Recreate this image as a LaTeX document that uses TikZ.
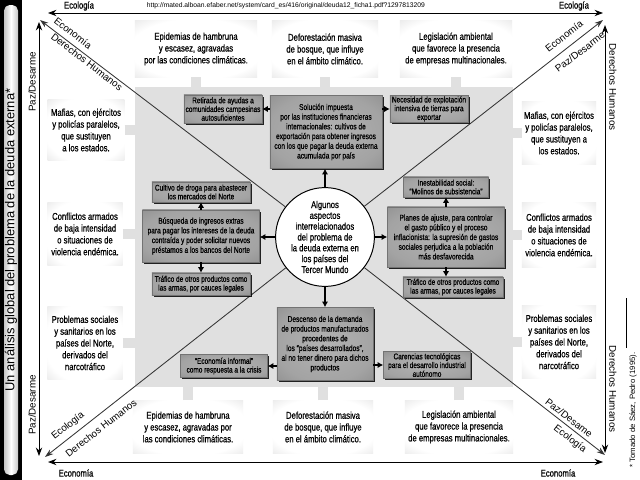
\documentclass[tikz,border=0pt]{standalone}
\usepackage{fontspec}
\setmainfont{Liberation Sans}
\newfontfamily\narrowsf{Liberation Sans}[FakeStretch=0.78,FakeBold=0.6]
\usetikzlibrary{arrows.meta,positioning,fit,shadows}
\definecolor{panelgray}{gray}{0.88}
\definecolor{glowmid}{gray}{0.83}
\definecolor{glowedge}{gray}{0.68}
\definecolor{darkmid}{gray}{0.70}
\definecolor{darkin}{gray}{0.64}
\definecolor{darkedge}{gray}{0.50}
\definecolor{darkcorner}{gray}{0.40}
\pgfdeclareradialshading{outglow}{\pgfpoint{0bp}{0bp}}{color(0bp)=(white); color(27bp)=(white); color(47bp)=(glowmid); color(72bp)=(glowedge)}
\pgfdeclareradialshading{inglow}{\pgfpoint{0bp}{0bp}}{color(0bp)=(darkmid); color(26bp)=(darkin); color(48bp)=(darkedge); color(72bp)=(darkcorner)}
\newcommand{\fontouter}{\narrowsf\fontsize{7}{8.4}\selectfont}
\newcommand{\fontinner}{\narrowsf\fontsize{6}{6.9}\selectfont}
\newcommand{\fonttag}{\narrowsf\fontsize{5.9}{6.2}\selectfont}
\newcommand{\fontcore}{\narrowsf\fontsize{7}{7.7}\selectfont}

\begin{document}
\begin{tikzpicture}[x=0.025cm,y=-0.025cm,
    outbox/.style={shade, shading=outglow, inner sep=0pt, align=center, font=\fontouter},
    darkbox/.style={shade, shading=inglow, draw=black!55, line width=0.3pt,
      drop shadow={shadow xshift=1.1pt, shadow yshift=-1.1pt, fill=black, opacity=0.85},
      inner sep=0pt, align=center, font=\fontinner},
    tagbox/.style={darkbox, font=\fonttag},
    core/.style={circle, draw, line width=0.7pt, fill=white, minimum size=2.2cm, inner sep=0pt,
      align=center, font=\fontcore},
    stub/.style={draw=panelgray, line width=0.25cm},
    diag/.style={draw=black!80, line width=0.6pt, -{Stealth[length=6pt,width=4pt]}},
    axis/.style={line width=0.7pt, {Stealth[length=6pt,width=4.5pt]}-{Stealth[length=6pt,width=4.5pt]}},
    arr/.style={line width=1.3pt, -{Latex[length=4pt,width=4.5pt]}},
    hlab/.style={font=\narrowsf\fontsize{7}{8}\selectfont},
    vlab/.style={font=\fontsize{7}{8}\selectfont},
  ]
  \useasboundingbox[fill=white] (0,0) rectangle (640,480);

  % title bar
  \begin{scope}
    \fill[black] (0,0) rectangle (22,480);
    \shade[rounded corners=4pt, left color=black!22, right color=black!22, middle color=white] (4,5) rectangle (18,475);
    \node[rotate=90, font=\fontsize{9.2}{10}\selectfont] (title) at (11,240) {Un análisis global del problema de la deuda externa*};
  \end{scope}

  % frame of axes
  \begin{scope}
    \coordinate (ax1) at (48,13);  \coordinate (ax2) at (603,13);
    \coordinate (ax3) at (48,462); \coordinate (ax4) at (603,462);
    \coordinate (ax5) at (39,22);  \coordinate (ax6) at (39,456);
    \coordinate (ax7) at (605,25); \coordinate (ax8) at (605,453);
    \draw[axis] (ax1) -- (ax2); % top
    \draw[axis] (ax3) -- (ax4); % bottom
    \draw[axis] (ax5) -- (ax6); % left
    \draw[axis] (ax7) -- (ax8); % right
    \node[hlab] (ecoTL) at (79,6) {Ecología};
    \node[hlab] (ecoTR) at (574,6) {Ecología};
    \node[hlab] (ecnBL) at (76,473) {Economía};
    \node[hlab] (ecnBR) at (558,473) {Economía};
    \node[vlab, rotate=90] (pazL1) at (32,82) {Paz/Desarme};
    \node[vlab, rotate=90] (pazL2) at (32,405) {Paz/Desarme};
    \node[vlab, rotate=-90] (dhR1) at (613,87) {Derechos Humanos};
    \node[vlab, rotate=-90] (dhR2) at (613,389) {Derechos Humanos};
    \node[font=\fontsize{4.8}{5}\selectfont] (url) at (286,6) {http://mated.alboan.efaber.net/system/card\_es/416/original/deuda12\_ficha1.pdf?1297813209};
    \node[rotate=90, font=\fontsize{5.5}{6}\selectfont] (source) at (633,410) {* Tomado de Sáez, Pedro (1995).};
    \draw[line width=0.4pt] (626,298) -- (626,348);
  \end{scope}

  % panel and outer boxes
  \node[fit={(135,87) (513,387)}, inner sep=0pt, fill=panelgray] (panel) {};
  \node[outbox, minimum width=3.05cm, minimum height=1.4cm] (epidT) at (196,49) {Epidemias de hambruna\\ y escasez, agravadas\\ por las condiciones climáticas.};
  \node[outbox, minimum width=2.65cm, minimum height=1.4cm] (deforT) at (325,49) {Deforestación masiva\\ de bosque, que influye\\ en el ámbito climático.};
  \node[outbox, minimum width=2.8cm, minimum height=1.4cm] (legisT) at (456,49) {Legislación ambiental\\ que favorece la presencia\\ de empresas multinacionales.};
  \node[outbox, minimum width=2.75cm, minimum height=1.33cm] (epidB) at (188,427) {Epidemias de hambruna\\ y escasez, agravadas por\\ las condiciones climáticas.};
  \node[outbox, minimum width=2.5cm, minimum height=1.33cm] (deforB) at (323,427) {Deforestación masiva\\ de bosque, que influye\\ en el ámbito climático.};
  \node[outbox, minimum width=2.7cm, minimum height=1.33cm] (legisB) at (459,427) {Legislación ambiental\\ que favorece la presencia\\ de empresas multinacionales.};
  \node[outbox, minimum width=1.92cm, minimum height=1.5cm] (mafiaL) at (86,130) {Mafias, con ejércitos\\ y policías paralelos,\\ que sustituyen\\ a los estados.};
  \node[outbox, minimum width=1.88cm, minimum height=1.58cm] (conflL) at (85,234) {Conflictos armados\\ de baja intensidad\\ o situaciones de\\ violencia endémica.};
  \node[outbox, minimum width=1.88cm, minimum height=1.83cm] (probL) at (85,343) {Problemas sociales\\ y sanitarios en los\\ países del Norte,\\ derivados del\\ narcotráfico};
  \node[outbox, minimum width=1.85cm, minimum height=1.58cm] (mafiaR) at (559,133) {Mafias, con ejércitos\\ y policías paralelos,\\ que sustituyen a\\ los estados.};
  \node[outbox, minimum width=1.85cm, minimum height=1.6cm] (conflR) at (559,235) {Conflictos armados\\ de baja intensidad\\ o situaciones de\\ violencia endémica.};
  \node[outbox, minimum width=1.85cm, minimum height=1.83cm] (probR) at (559,342) {Problemas sociales\\ y sanitarios en los\\ países del Norte,\\ derivados del\\ narcotráfico};

  % stubs into the panel
  \begin{scope}
    \foreach \b in {epidT,deforT,legisT}
      \draw[stub] (\b.south) -- (\b.south |- panel.north);
    \foreach \b in {epidB,deforB,legisB}
      \draw[stub] (\b.north) -- (\b.north |- panel.south);
    \foreach \b in {mafiaL,conflL,probL}
      \draw[stub] (\b.east) -- (\b.east -| panel.west);
    \foreach \b in {mafiaR,conflR,probR}
      \draw[stub] (\b.west) -- (\b.west -| panel.east);
  \end{scope}

  % centre and diagonals
  \node[core] (core) at (325,237) {Algunos\\ aspectos\\ interrelacionados\\ del problema de\\ la deuda externa en\\ los países del\\ Tercer Mundo};
  \begin{scope}
    \coordinate (tlc) at (40,20);  \coordinate (trc) at (603,20);
    \coordinate (blc) at (45,457); \coordinate (brc) at (605,455);
    \draw[diag] (core) -- (tlc);
    \draw[diag] (core) -- (trc);
    \draw[diag] (core) -- (blc);
    \draw[diag] (core) -- (brc);
    \node[vlab, rotate=-37.6] (dTL1) at (73,33) {Economía};
    \node[vlab, rotate=-37.6] (dTL2) at (87,62) {Derechos Humanos};
    \node[vlab, rotate=37.5] (dTR1) at (564,36) {Economía};
    \node[vlab, rotate=37.5] (dTR2) at (580,52) {Paz/Desarme};
    \node[vlab, rotate=38] (dBL1) at (68,426) {Ecología};
    \node[vlab, rotate=38] (dBL2) at (101,428) {Derechos Humanos};
    \node[vlab, rotate=-37.6] (dBR1) at (569,418) {Paz/Desame};
    \node[vlab, rotate=-37.6] (dBR2) at (570,439) {Ecología};
  \end{scope}

  % inner boxes
  \node[darkbox, minimum width=2.8cm, minimum height=1.83cm] (sol) at (326,132) {Solución impuesta\\ por las instituciones financieras\\ internacionales: cultivos de\\ exportación para obtener ingresos\\ con los que pagar la deuda externa\\ acumulada por país};
  \node[tagbox, minimum width=1.95cm, minimum height=0.7cm] (retir) at (223,109) {Retirada de ayudas a\\ comunidades campesinas\\ autosuficientes};
  \node[tagbox, minimum width=1.95cm, minimum height=0.68cm] (neces) at (429,109) {Necesidad de explotación\\ intensiva de tierras para\\ exportar};
  \node[darkbox, minimum width=2.93cm, minimum height=1.3cm] (busq) at (201,236) {Búsqueda de ingresos extras\\ para pagar los intereses de la deuda\\ contraída y poder solicitar nuevos\\ préstamos a los bancos del Norte};
  \node[tagbox, minimum width=2.45cm, minimum height=0.5cm] (cultiv) at (201,192) {Cultivo de droga para abastecer\\ los mercados del Norte};
  \node[tagbox, minimum width=2.45cm, minimum height=0.55cm] (trafL) at (201,284) {Tráfico de otros productos como\\ las armas, por cauces legales};
  \node[darkbox, minimum width=2.93cm, minimum height=1.5cm] (planes) at (446,237) {Planes de ajuste, para controlar\\ el gasto público y el proceso\\ inflacionista: la supresión de gastos\\ sociales perjudica a la población\\ más desfavorecida};
  \node[tagbox, minimum width=2.13cm, minimum height=0.5cm] (inest) at (446,187) {Inestabilidad social:\\ “Molinos de subsistencia”};
  \node[tagbox, minimum width=2.5cm, minimum height=0.5cm] (trafR) at (453,287) {Tráfico de otros productos como\\ las armas, por cauces legales};
  \node[darkbox, minimum width=2.4cm, minimum height=1.83cm] (desc) at (325,344) {Descenso de la demanda\\ de productos manufacturados\\ procedentes de\\ los “países desarrollados”,\\ al no tener dinero para dichos\\ productos};
  \node[tagbox, minimum width=2.18cm, minimum height=0.58cm] (econ) at (224,366) {“Economía informal”\\ como respuesta a la crisis};
  \node[tagbox, minimum width=2.18cm, minimum height=0.68cm] (caren) at (427,365) {Carencias tecnológicas\\ para el desarrollo industrial\\ autónomo};

  % arrows
  \begin{scope}
    \draw[arr] (core.north) -- (core.north |- sol.south);
    \draw[arr] (core.south) -- (core.south |- desc.north);
    \draw[arr] (core.west) -- (core.west -| busq.east);
    \draw[arr] (core.east) -- (core.east -| planes.west);
    \draw[arr] (sol.west |- retir) -- (retir.east);
    \draw[arr] (sol.east |- neces) -- (neces.west);
    \draw[arr] (busq.north) -- (busq.north |- cultiv.south);
    \draw[arr] (busq.south) -- (busq.south |- trafL.north);
    \draw[arr] (planes.north) -- (planes.north |- inest.south);
    \draw[arr] (planes.south) -- (planes.south |- trafR.north);
    \draw[arr] (desc.west |- econ) -- (econ.east);
    \draw[arr] (desc.east |- caren) -- (caren.west);
  \end{scope}
\end{tikzpicture}
\end{document}
